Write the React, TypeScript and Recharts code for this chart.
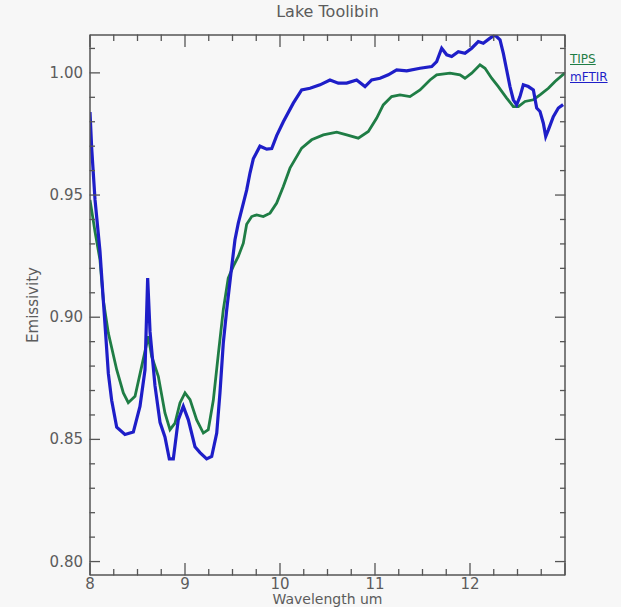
import { LineChart, Line, XAxis, YAxis } from 'recharts'

// TIPS (green) spectrum
const tipsWavelength = [
  8.0, 8.053, 8.105, 8.14, 8.193, 8.281, 8.351, 8.403, 8.474, 8.544, 8.614, 8.649, 8.719, 8.789,
  8.842, 8.895, 8.947, 9.0, 9.053, 9.123, 9.193, 9.245, 9.298, 9.351, 9.403, 9.455, 9.508, 9.561,
  9.614, 9.649, 9.702, 9.755, 9.824, 9.895, 9.965, 10.035, 10.105, 10.228, 10.333, 10.456, 10.597,
  10.702, 10.824, 10.93, 11.018, 11.087, 11.175, 11.263, 11.368, 11.474, 11.579, 11.649, 11.789,
  11.895, 11.947, 12.018, 12.105, 12.158, 12.228, 12.298, 12.386, 12.456, 12.509, 12.579, 12.667,
  12.737, 12.825, 12.895, 13.0,
]
const tipsEmissivity = [
  0.948, 0.935, 0.9235, 0.907, 0.8935, 0.8785, 0.869, 0.865, 0.8676, 0.8799, 0.8922, 0.884, 0.8758,
  0.8608, 0.854, 0.8567, 0.8649, 0.869, 0.8663, 0.858, 0.8526, 0.854, 0.866, 0.885, 0.903, 0.916,
  0.9208, 0.9249, 0.9303, 0.938, 0.9412, 0.9419, 0.9412, 0.9426, 0.9467, 0.9535, 0.961, 0.9692,
  0.9726, 0.9746, 0.9757, 0.9746, 0.9733, 0.976, 0.9815, 0.9869, 0.9903, 0.991, 0.9903, 0.993,
  0.9971, 0.9992, 0.9999, 0.9992, 0.9978, 0.9999, 1.0033, 1.0019, 0.9978, 0.9944, 0.9897, 0.9862,
  0.9862, 0.9883, 0.989, 0.991, 0.9937, 0.9965, 1.0,
]

// mFTIR (blue) spectrum
const mftirWavelength = [
  8.0, 8.018, 8.053, 8.105, 8.14, 8.165, 8.193, 8.228, 8.281, 8.368, 8.456, 8.526, 8.579, 8.607,
  8.632, 8.684, 8.737, 8.789, 8.835, 8.877, 8.929, 8.982, 9.035, 9.105, 9.158, 9.228, 9.281, 9.334,
  9.368, 9.403, 9.439, 9.492, 9.526, 9.561, 9.597, 9.649, 9.684, 9.719, 9.789, 9.86, 9.913, 9.965,
  10.035, 10.14, 10.228, 10.316, 10.421, 10.526, 10.614, 10.702, 10.807, 10.895, 10.965, 11.053,
  11.14, 11.228, 11.334, 11.474, 11.597, 11.649, 11.702, 11.755, 11.807, 11.877, 11.947, 12.018,
  12.087, 12.14, 12.211, 12.263, 12.316, 12.351, 12.386, 12.421, 12.456, 12.491, 12.526, 12.561,
  12.614, 12.667, 12.702, 12.737, 12.772, 12.797, 12.825, 12.877, 12.93, 12.98,
]
const mftirEmissivity = [
  0.984, 0.969, 0.948, 0.927, 0.907, 0.893, 0.877, 0.866, 0.855, 0.852, 0.853, 0.8635, 0.8785,
  0.916, 0.894, 0.872, 0.857, 0.851, 0.842, 0.842, 0.858, 0.8635, 0.858, 0.847, 0.8446, 0.842,
  0.843, 0.8526, 0.869, 0.8894, 0.903, 0.9208, 0.9317, 0.9385, 0.944, 0.952, 0.959, 0.9648, 0.97,
  0.9688, 0.969, 0.9743, 0.98, 0.9876, 0.993, 0.9937, 0.9951, 0.9971, 0.9958, 0.9958, 0.9971,
  0.9944, 0.9971, 0.9978, 0.9992, 1.0012, 1.0008, 1.0019, 1.0026, 1.0046, 1.0101, 1.0074, 1.0067,
  1.0087, 1.008, 1.0101, 1.0128, 1.0121, 1.0142, 1.0155, 1.0135, 1.008, 1.0012, 0.9944, 0.989,
  0.9869, 0.9903, 0.9951, 0.9944, 0.993, 0.9856, 0.9842, 0.9794, 0.974, 0.9767, 0.9821, 0.9856,
  0.987,
]

const seriesNames = ['TIPS', 'mFTIR']
const xTickLabels = ['8', '9', '10', '11', '12']
const yTickLabels = ['0.80', '0.85', '0.90', '0.95', '1.00']

const tipsData = tipsWavelength.map((w, i) => ({ w, e: tipsEmissivity[i] }))
const mftirData = mftirWavelength.map((w, i) => ({ w, e: mftirEmissivity[i] }))

// minor ticks every 0.25 um and every 0.01
const xTicks = Array.from({ length: 21 }, (_, i) => 8 + i * 0.25)
const yTicks = Array.from({ length: 22 }, (_, i) => Math.round((0.8 + i * 0.01) * 100) / 100)

const X_DOMAIN = [8, 13]
const Y_DOMAIN = [0.7945, 1.0155]

const GREEN = '#1f7d45'
const BLUE = '#1e1ec8'
const AXIS_COLOR = '#555'
const TEXT_COLOR = '#5c5c5c'
const FONT = '"DejaVu Sans", sans-serif'

const isWhole = (v: number) => Math.abs(v - Math.round(v)) < 1e-6

// tickSize is 1 on every axis; tick text sits at axis + tickSize + tickMargin
const BottomTick = (props: any) => {
  const { x, y, payload } = props
  const v = payload.value
  const major = isWhole(v)
  const label = major ? xTickLabels.find(l => Number(l) === Math.round(v)) : undefined
  const axisY = y - 4
  return (
    <g>
      <line x1={x} x2={x} y1={axisY} y2={axisY - (major ? 12 : 6)} stroke={AXIS_COLOR} strokeWidth={1.3} />
      {label && (
        <text x={x} y={axisY} dy={14} textAnchor="middle" fill={TEXT_COLOR} fontSize={15} fontFamily={FONT}>
          {label}
        </text>
      )}
    </g>
  )
}

const TopTick = (props: any) => {
  const { x, y, payload } = props
  const major = isWhole(payload.value)
  const axisY = y + 1
  return <line x1={x} x2={x} y1={axisY} y2={axisY + (major ? 12 : 6)} stroke={AXIS_COLOR} strokeWidth={1.3} />
}

const LeftTick = (props: any) => {
  const { x, y, payload } = props
  const v = Math.round(payload.value * 100)
  const major = v % 5 === 0
  const label = yTickLabels.find(l => Math.round(Number(l) * 100) === v)
  const axisX = x + 7
  return (
    <g>
      <line x1={axisX} x2={axisX + (major ? 10 : 5)} y1={y} y2={y} stroke={AXIS_COLOR} strokeWidth={1.3} />
      {label && (
        <text x={axisX - 7} y={y} dy={5} textAnchor="end" fill={TEXT_COLOR} fontSize={15} fontFamily={FONT}>
          {label}
        </text>
      )}
    </g>
  )
}

const RightTick = (props: any) => {
  const { x, y, payload } = props
  const major = Math.round(payload.value * 100) % 5 === 0
  const axisX = x - 1
  return <line x1={axisX} x2={axisX - (major ? 10 : 5)} y1={y} y2={y} stroke={AXIS_COLOR} strokeWidth={1.3} />
}

export default function App() {
  return (
    <div
      style={{
        position: 'absolute',
        left: 0,
        top: 0,
        width: 621,
        height: 607,
        background: '#f7f7f7',
        fontFamily: FONT,
        color: TEXT_COLOR,
        overflow: 'hidden',
      }}
    >
      <div style={{ position: 'absolute', left: 90, width: 475, top: 2, textAlign: 'center', fontSize: 16 }}>
        Lake Toolibin
      </div>
      <div
        style={{
          position: 'absolute',
          left: 90,
          width: 475,
          top: 593,
          textAlign: 'center',
          fontSize: 14,
          lineHeight: '13px',
        }}
      >
        Wavelength um
      </div>
      <div
        style={{
          position: 'absolute',
          left: 33,
          top: 305,
          fontSize: 15,
          transform: 'translate(-50%, -50%) rotate(-90deg)',
          whiteSpace: 'nowrap',
        }}
      >
        Emissivity
      </div>
      <div style={{ position: 'absolute', left: 570, top: 50, fontSize: 12, lineHeight: '18px' }}>
        <div style={{ color: GREEN, textDecoration: 'underline' }}>{seriesNames[0]}</div>
        <div style={{ color: BLUE, textDecoration: 'underline' }}>{seriesNames[1]}</div>
      </div>
      <LineChart width={621} height={607} margin={{ top: 34, right: 55, bottom: 2, left: 30 }}>
        <XAxis
          dataKey="w"
          type="number"
          domain={X_DOMAIN}
          ticks={xTicks}
          interval={0}
          height={30}
          tickSize={1}
          tickMargin={3}
          tick={<BottomTick />}
          axisLine={{ stroke: AXIS_COLOR, strokeWidth: 1.5 }}
          allowDataOverflow
        />
        <XAxis
          xAxisId="top"
          orientation="top"
          dataKey="w"
          type="number"
          domain={X_DOMAIN}
          ticks={xTicks}
          interval={0}
          height={1}
          tickSize={1}
          tickMargin={0}
          tick={<TopTick />}
          axisLine={{ stroke: AXIS_COLOR, strokeWidth: 1.5 }}
          allowDataOverflow
        />
        <YAxis
          type="number"
          domain={Y_DOMAIN}
          ticks={yTicks}
          interval={0}
          width={60}
          tickSize={1}
          tickMargin={6}
          tick={<LeftTick />}
          axisLine={{ stroke: AXIS_COLOR, strokeWidth: 1.5 }}
          allowDataOverflow
        />
        <YAxis
          yAxisId="right"
          orientation="right"
          type="number"
          domain={Y_DOMAIN}
          ticks={yTicks}
          interval={0}
          width={1}
          tickSize={1}
          tickMargin={0}
          tick={<RightTick />}
          axisLine={{ stroke: AXIS_COLOR, strokeWidth: 1.5 }}
          allowDataOverflow
        />
        {/* invisible copy so the mirrored top/right axes have a series and get drawn */}
        <Line
          xAxisId="top"
          yAxisId="right"
          data={tipsData}
          dataKey="e"
          stroke="none"
          dot={false}
          activeDot={false}
          legendType="none"
          isAnimationActive={false}
        />
        <Line
          data={tipsData}
          dataKey="e"
          name={seriesNames[0]}
          stroke={GREEN}
          strokeWidth={2.8}
          dot={false}
          activeDot={false}
          isAnimationActive={false}
        />
        <Line
          data={mftirData}
          dataKey="e"
          name={seriesNames[1]}
          stroke={BLUE}
          strokeWidth={3.2}
          dot={false}
          activeDot={false}
          isAnimationActive={false}
        />
      </LineChart>
    </div>
  )
}
